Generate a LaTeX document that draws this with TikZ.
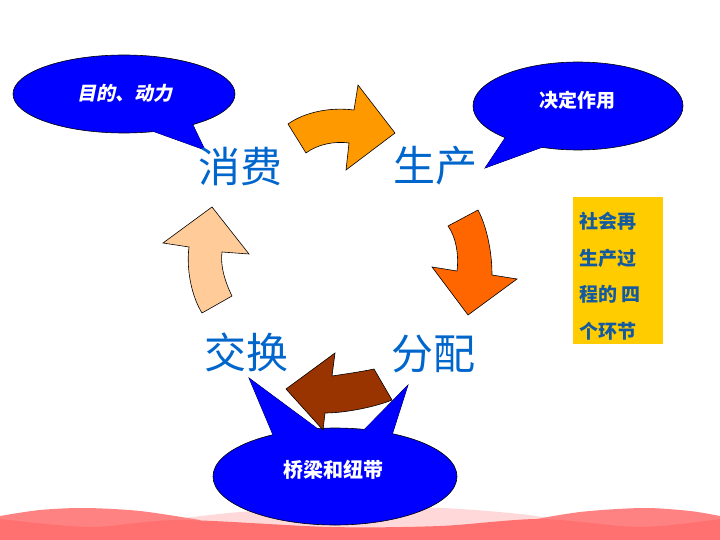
\documentclass[tikz,border=0pt]{standalone}
\usepackage{fontspec}
\setmainfont{Liberation Sans}
\newfontfamily\cjk{Noto Sans CJK SC}
\newfontfamily\cjkit[FakeSlant=0.2]{Noto Sans CJK SC}
\usetikzlibrary{shapes.geometric}
\definecolor{lblue}{RGB}{0,102,204}
\definecolor{boxtext}{RGB}{20,90,160}
\definecolor{calblue}{RGB}{0,0,255}
\definecolor{arrorange}{RGB}{255,153,0}
\definecolor{arrdark}{RGB}{255,102,0}
\definecolor{arrbrown}{RGB}{153,51,0}
\definecolor{arrpeach}{RGB}{255,204,153}
\definecolor{boxyellow}{RGB}{255,204,0}
\definecolor{wavedark}{RGB}{255,112,112}
\definecolor{wavemid}{RGB}{255,130,130}
\definecolor{wavelight}{RGB}{255,217,217}
\begin{document}
\begin{tikzpicture}[x=1pt,y=-1pt,
  arr/.style={draw=black, line width=0.6pt, line join=miter},
  callout/.style={fill=calblue, draw=black, line width=0.6pt},
  calfill/.style={fill=calblue},
  big/.style={text=lblue, font=\cjk\fontsize{42}{48}\selectfont, inner sep=0pt},
  caltext/.style={text=white, inner sep=0pt}
]
\useasboundingbox (0,0) rectangle (720,540);
% background waves
\fill[wavelight] plot[smooth] coordinates {(160,521) (240,512) (330,508) (440,508) (520,514) (565,521)} -- (565,535) -- (160,535) -- cycle;
\fill[wavemid] plot[smooth] coordinates {(0,516) (40,510) (85,508) (140,511) (200,520)} -- (200,535) -- (0,535) -- cycle;
\fill[wavemid] plot[smooth] coordinates {(520,522) (580,512) (643,508) (690,511) (720,516)} -- (720,535) -- (520,535) -- cycle;
\fill[wavedark] plot[smooth] coordinates {(0,519) (90,527) (180,520) (330,527) (440,526) (540,519) (640,527) (720,519)} -- (720,540) -- (0,540) -- cycle;

% callout top-left
\path[callout] (145,128.4) -- (205,150) -- (190,118.8) -- cycle;
\node[ellipse, callout, minimum width=222pt, minimum height=78pt, inner sep=0pt] (c1) at (124,94) {};
\fill[calfill] (145,128.4) -- (205,150) -- (190,118.8) -- cycle;
\node[caltext, font=\cjkit\bfseries\fontsize{19}{22}\selectfont] (t1) at (125,93) {目的、动力};

% callout top-right
\path[callout] (511,129) -- (485,168) -- (551,144) -- cycle;
\node[ellipse, callout, minimum width=210pt, minimum height=88pt, inner sep=0pt] (c2) at (578,106) {};
\fill[calfill] (511,129) -- (485,168) -- (551,144) -- cycle;
\node[caltext, font=\cjk\bfseries\fontsize{19}{22}\selectfont] (t2) at (577,100) {决定作用};

% callout bottom
\path[callout] (277,444.5) -- (249,378) -- (326,435) -- cycle;
\path[callout] (358,436) -- (408,385) -- (390,441.4) -- cycle;
\node[ellipse, callout, minimum width=244pt, minimum height=97pt, inner sep=0pt] (c3) at (335,476.5) {};
\fill[calfill] (277,444.5) -- (249,378) -- (326,435) -- cycle;
\fill[calfill] (358,436) -- (408,385) -- (390,441.4) -- cycle;
\node[caltext, font=\cjk\bfseries\fontsize{20}{24}\selectfont] (t3) at (333,470) {桥梁和纽带};

% arrows
\draw[arr, fill=arrorange] (288,124) .. controls (305,112) and (330,107) .. (354,110) -- (358,85) -- (395,133) -- (346,170) -- (349,143) .. controls (335,141) and (318,144) .. (306,153) -- cycle;
\draw[arr, fill=arrdark] (448,226) -- (478,210) .. controls (486,225) and (492,250) .. (492,275) -- (517,279) -- (468,315) -- (432,267) -- (457,271) .. controls (459,255) and (456,237) .. (448,226) -- cycle;
\draw[arr, fill=arrbrown] (374,369) .. controls (360,372) and (345,374) .. (332,376) -- (335,353) -- (286,389) -- (323,430) -- (325,413) .. controls (345,413) and (375,407) .. (392,400) -- cycle;
\draw[arr, fill=arrpeach] (202,313) -- (232,296) .. controls (225,282) and (220,265) .. (222,252) -- (249,254) -- (212,207) -- (163,243) -- (189,247) .. controls (186,270) and (192,297) .. (202,313) -- cycle;

% main labels
\node[big] (xf) at (240,167) {消费};
\node[big] (sc) at (435,166) {生产};
\node[big] (jh) at (246,352) {交换};
\node[big] (fp) at (433,354) {分配};

% yellow box
\node[fill=boxyellow, minimum width=90pt, minimum height=147pt, inner sep=0pt] (box) at (618,270.5) {};
\node[anchor=west, align=left, text=boxtext, inner sep=0pt, font=\cjk\bfseries\fontsize{19}{36.5}\selectfont] (boxt) at (579,276) {社会再\\生产过\\程的 四\\个环节};
\end{tikzpicture}
\end{document}
